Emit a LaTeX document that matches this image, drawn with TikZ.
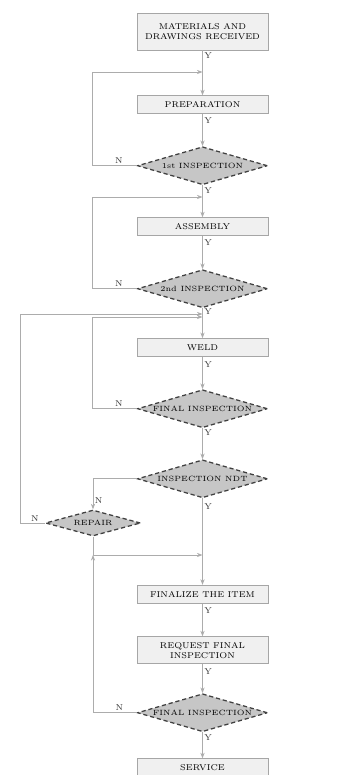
\documentclass[tikz,border=0pt]{standalone}
\usetikzlibrary{arrows.meta,positioning,shapes.geometric}

\begin{document}
\begin{tikzpicture}[
    x=0.025cm, y=-0.025cm,
    font=\fontsize{6}{7}\selectfont,
    node distance=0.85cm,
    box/.style={
        draw=gray!70,
        fill=gray!12,
        minimum width=3.275cm,
        minimum height=0.45cm,
        align=center,
        inner sep=1pt,
        line width=0.5pt
    },
    test/.style={
        diamond,
        aspect=3.4,
        draw=black!75,
        fill=gray!45,
        densely dashed,
        font=\fontsize{5.4}{6.4}\selectfont,
        minimum width=3.25cm,
        minimum height=0.95cm,
        inner sep=0pt,
        align=center,
        line width=0.9pt
    },
    line/.style={
        -{Stealth[length=4pt,width=3pt]},
        draw=gray!65,
        line width=0.6pt
    },
    lab/.style={
        inner sep=1pt,
        text=black!80
    }
]

\useasboundingbox (0,0) rectangle (341,775);

\node[box, minimum height=0.925cm] (recv) at (202.5,31.5) {
    MATERIALS AND\\
    DRAWINGS RECEIVED
};

\node[box, below=1.125cm of recv] (prep) {PREPARATION};

\node[test, below=0.8cm of prep] (insp1) {1st INSPECTION};

\node[box, below=0.8cm of insp1] (asm) {ASSEMBLY};

\node[test, below=0.825cm of asm] (insp2) {2nd INSPECTION};

\node[box, below=0.745cm of insp2] (weld) {WELD};

\node[test, below=0.805cm of weld] (insp3) {FINAL INSPECTION};

\node[test, below=0.77cm of insp3] (ndt) {INSPECTION NDT};

\node[test, minimum width=2.375cm, minimum height=0.65cm] (rep) at (93,523) {REPAIR};

\node[box, below=2.16cm of ndt] (fin) {FINALIZE THE ITEM};

\node[box, minimum height=0.675cm, below=0.82cm of fin] (req) {
    REQUEST FINAL\\
    INSPECTION
};

\node[test, below=0.725cm of req] (insp4) {FINAL INSPECTION};

\node[box, minimum height=0.42cm, below=0.65cm of insp4] (serv) {SERVICE};

% junctions on the main line and corners of the loops
\coordinate (j1) at (202.5,72);
\coordinate (j2) at (202.5,197);
\coordinate (j3) at (202.5,317);
\coordinate (j3b) at (202.5,314);
\coordinate (j4) at (202.5,555);
\coordinate (l1) at (92,72);
\coordinate (l2) at (92,197);
\coordinate (l3) at (92,317);
\coordinate (l4) at (20,314);
\coordinate (l5) at (93,555);

\draw[line] (recv) -- node[lab, right, pos=0.12] {Y} (prep);
\draw[line] (prep) -- node[lab, right, pos=0.2] {Y} (insp1);
\draw[line] (insp1) -- node[lab, right, pos=0.15] {Y} (asm);
\draw[line] (asm) -- node[lab, right, pos=0.2] {Y} (insp2);
\draw[line] (insp2) -- node[lab, right, pos=0.12] {Y} (weld);
\draw[line] (weld) -- node[lab, right, pos=0.25] {Y} (insp3);
\draw[line] (insp3) -- node[lab, right, pos=0.15] {Y} (ndt);
\draw[line] (ndt) -- node[lab, right, pos=0.1] {Y} (fin);
\draw[line] (fin) -- node[lab, right, pos=0.2] {Y} (req);
\draw[line] (req) -- node[lab, right, pos=0.25] {Y} (insp4);
\draw[line] (insp4) -- node[lab, right, pos=0.2] {Y} (serv);

\draw[line] (insp1.west) -| node[lab, above, pos=0.2] {N} (l1) -- (j1);
\draw[line] (insp2.west) -| node[lab, above, pos=0.2] {N} (l2) -- (j2);
\draw[line] (insp3.west) -| node[lab, above, pos=0.2] {N} (l3) -- (j3);
\draw[line] (ndt.west) -| node[lab, right, pos=0.85] {N} (rep.north);
\draw[line] (rep.west) -| node[lab, above, pos=0.2] {N} (l4) -- (j3b);
\draw[line] (rep.south) -- (l5) -- (j4);
\draw[line] (insp4.west) -| node[lab, above, pos=0.2] {N} (l5);

\end{tikzpicture}
\end{document}
